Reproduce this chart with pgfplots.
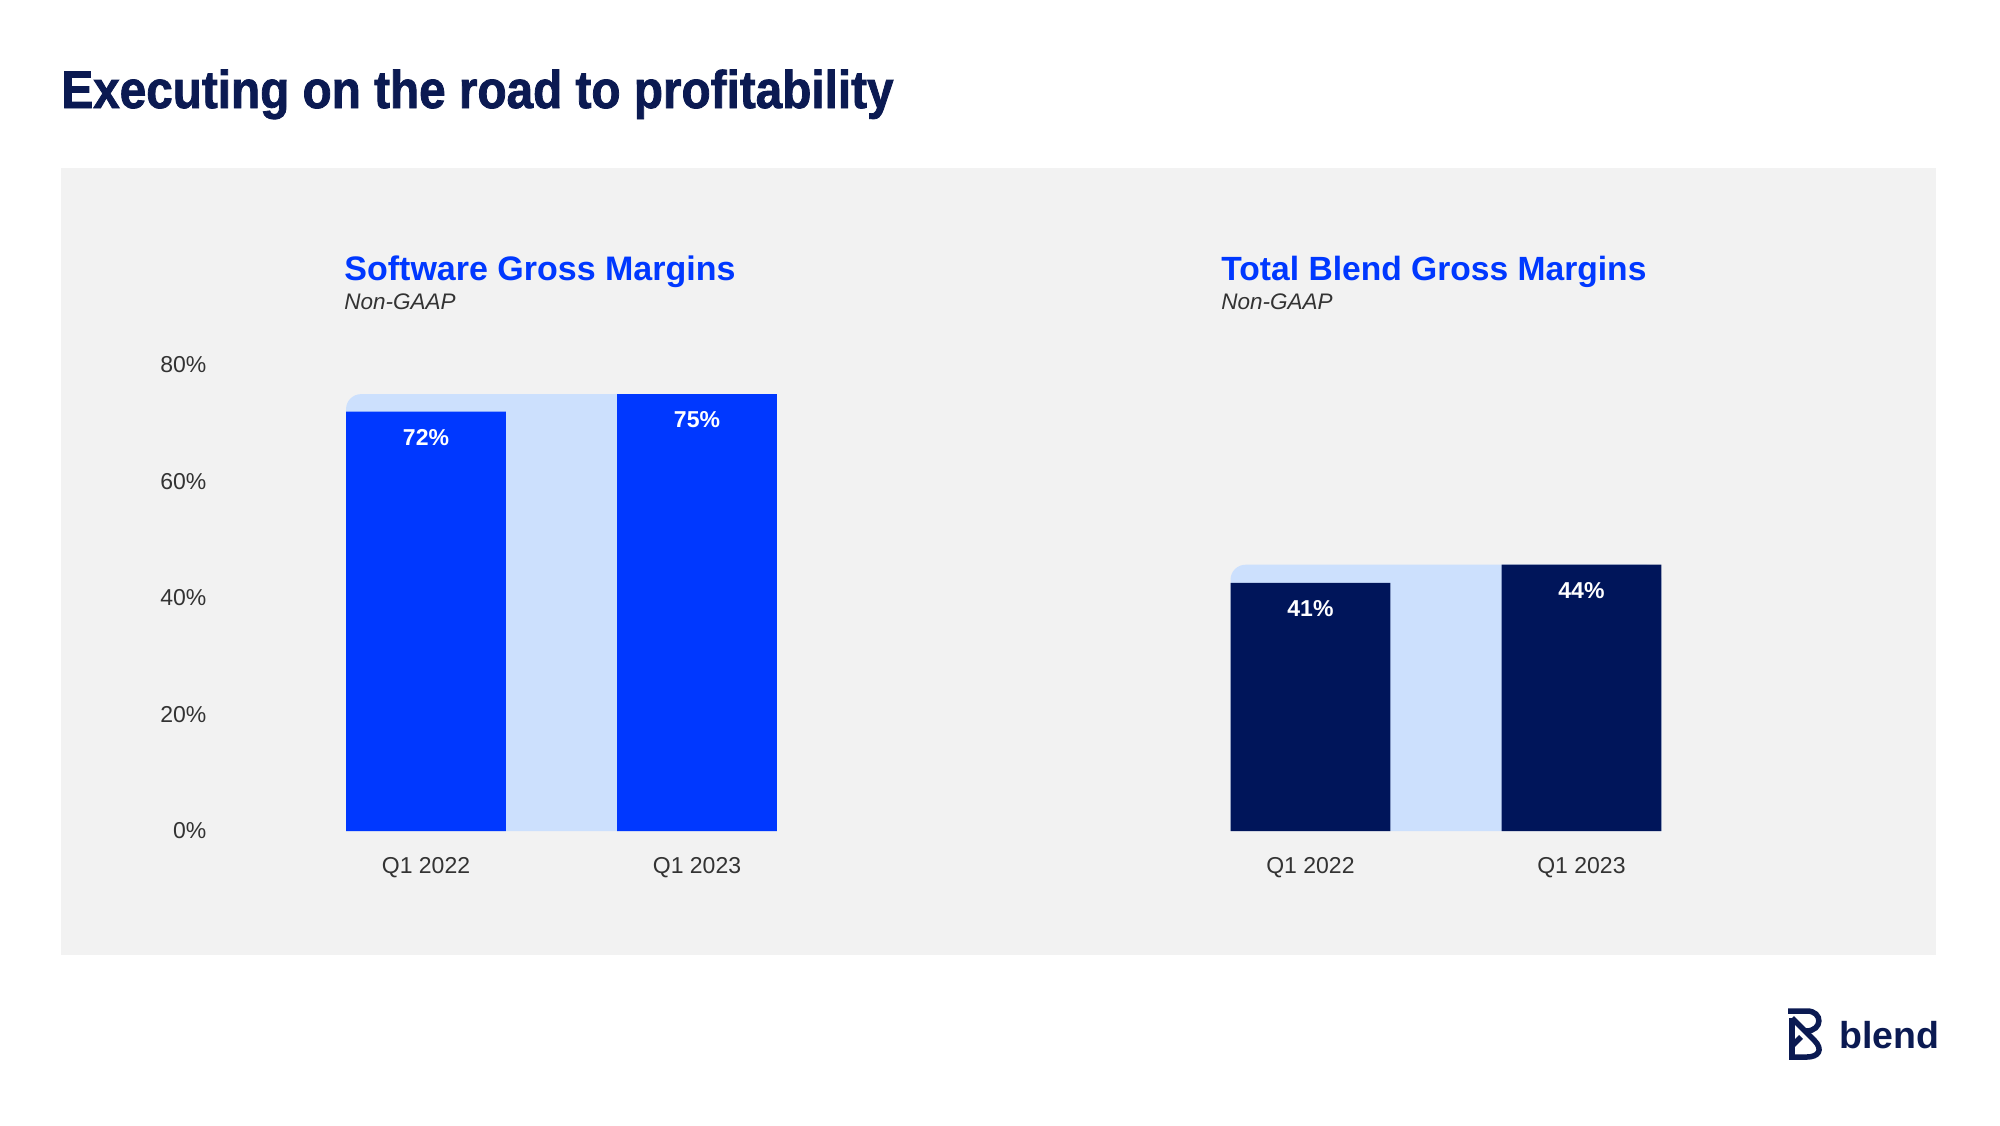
\documentclass[border=0pt]{standalone}
\usepackage{pgfplots}
\pgfplotsset{compat=1.18}
\usepackage{fontspec}
\setmainfont{Liberation Sans}
\newfontfamily\titlefont{Liberation Sans}[FakeStretch=0.9, BoldFeatures={FakeBold=1.5}]
\definecolor{navy}{HTML}{0B1A52}
\definecolor{barnavy}{HTML}{00155A}
\definecolor{brandblue}{HTML}{0038FF}
\definecolor{band}{HTML}{CCE0FD}
\definecolor{panel}{HTML}{F2F2F2}
\definecolor{txt}{HTML}{333333}
\pgfplotsset{gm/.style={
  scale only axis, width=338.75pt, height=233pt,
  xmin=-0.75, xmax=1.75, ymin=0,
  axis line style={draw=none}, tick style={draw=none},
  xtick={0,1}, xticklabels={Q1 2022,Q1 2023},
  xticklabel style={inner sep=0pt, yshift=-12.9pt, text=txt, font=\fontsize{11.5}{13}\selectfont},
  yticklabel style={inner sep=0pt, xshift=-8pt, text=txt, font=\fontsize{11.5}{13}\selectfont},
  clip=false,
},
gmbar/.style={ybar, bar width=0.59, draw=none, fill=#1,
  nodes near coords, point meta=explicit symbolic,
  every node near coord/.append style={text=white, font=\bfseries\fontsize{11.5}{13}\selectfont, inner sep=0pt, yshift=-17pt}},
}
\begin{document}
\begin{tikzpicture}[x=0.5pt,y=-0.5pt]
\fill[white] (0,0) rectangle (2000,1125);
\fill[panel] (61,168) rectangle (1936,955);
\node[anchor=base west, inner sep=0, text=navy, font=\titlefont\bfseries\fontsize{26.5}{30}\selectfont] at (61,108) {Executing on the road to profitability};
\node[anchor=base west, inner sep=0, text=brandblue, font=\bfseries\fontsize{17}{20}\selectfont] at (344,280) {Software Gross Margins};
\node[anchor=base west, inner sep=0, text=txt, font=\itshape\fontsize{11.25}{13}\selectfont] at (344,309) {Non-GAAP};
\node[anchor=base west, inner sep=0, text=brandblue, font=\bfseries\fontsize{16.8}{20}\selectfont] at (1221,280) {Total Blend Gross Margins};
\node[anchor=base west, inner sep=0, text=txt, font=\itshape\fontsize{11.25}{13}\selectfont] at (1221,309) {Non-GAAP};

\begin{axis}[gm, at={(111.375pt,-415.5pt)}, anchor=south west, ymax=80,
  ytick={0,20,40,60,80}, yticklabels={0\%,20\%,40\%,60\%,80\%}]
\addplot[fill=band, draw=none, mark=none, rounded corners=7.5pt] coordinates {(-0.295,0) (-0.295,75) (1.295,75) (1.295,0)};
\addplot[gmbar=brandblue] coordinates {(0,72) [72\%] (1,75) [75\%]};
\end{axis}

\begin{axis}[gm, at={(553.6pt,-415.5pt)}, anchor=south west, ymax=77, ytick=\empty]
\addplot[fill=band, draw=none, mark=none, rounded corners=7.5pt] coordinates {(-0.295,0) (-0.295,44) (1.295,44) (1.295,0)};
\addplot[gmbar=barnavy] coordinates {(0,41) [41\%] (1,44) [44\%]};
\end{axis}

% logo
\begin{scope}[navy, line width=2.75pt]
\draw (1788,1011) -- (1807,1011) .. controls (1823,1011) and (1823,1031) .. (1806,1031);
\draw[line join=round] (1792,1018) -- (1814,1040) .. controls (1824,1050) and (1818,1057) .. (1807,1057) -- (1789,1057);
\draw (1792,1018) -- (1792,1057);
\draw (1792,1046) -- (1801,1037);
\end{scope}
\node[anchor=base west, inner sep=0, text=navy, font=\bfseries\fontsize{18.75}{20}\selectfont] at (1839,1048) {blend};
\end{tikzpicture}
\end{document}
